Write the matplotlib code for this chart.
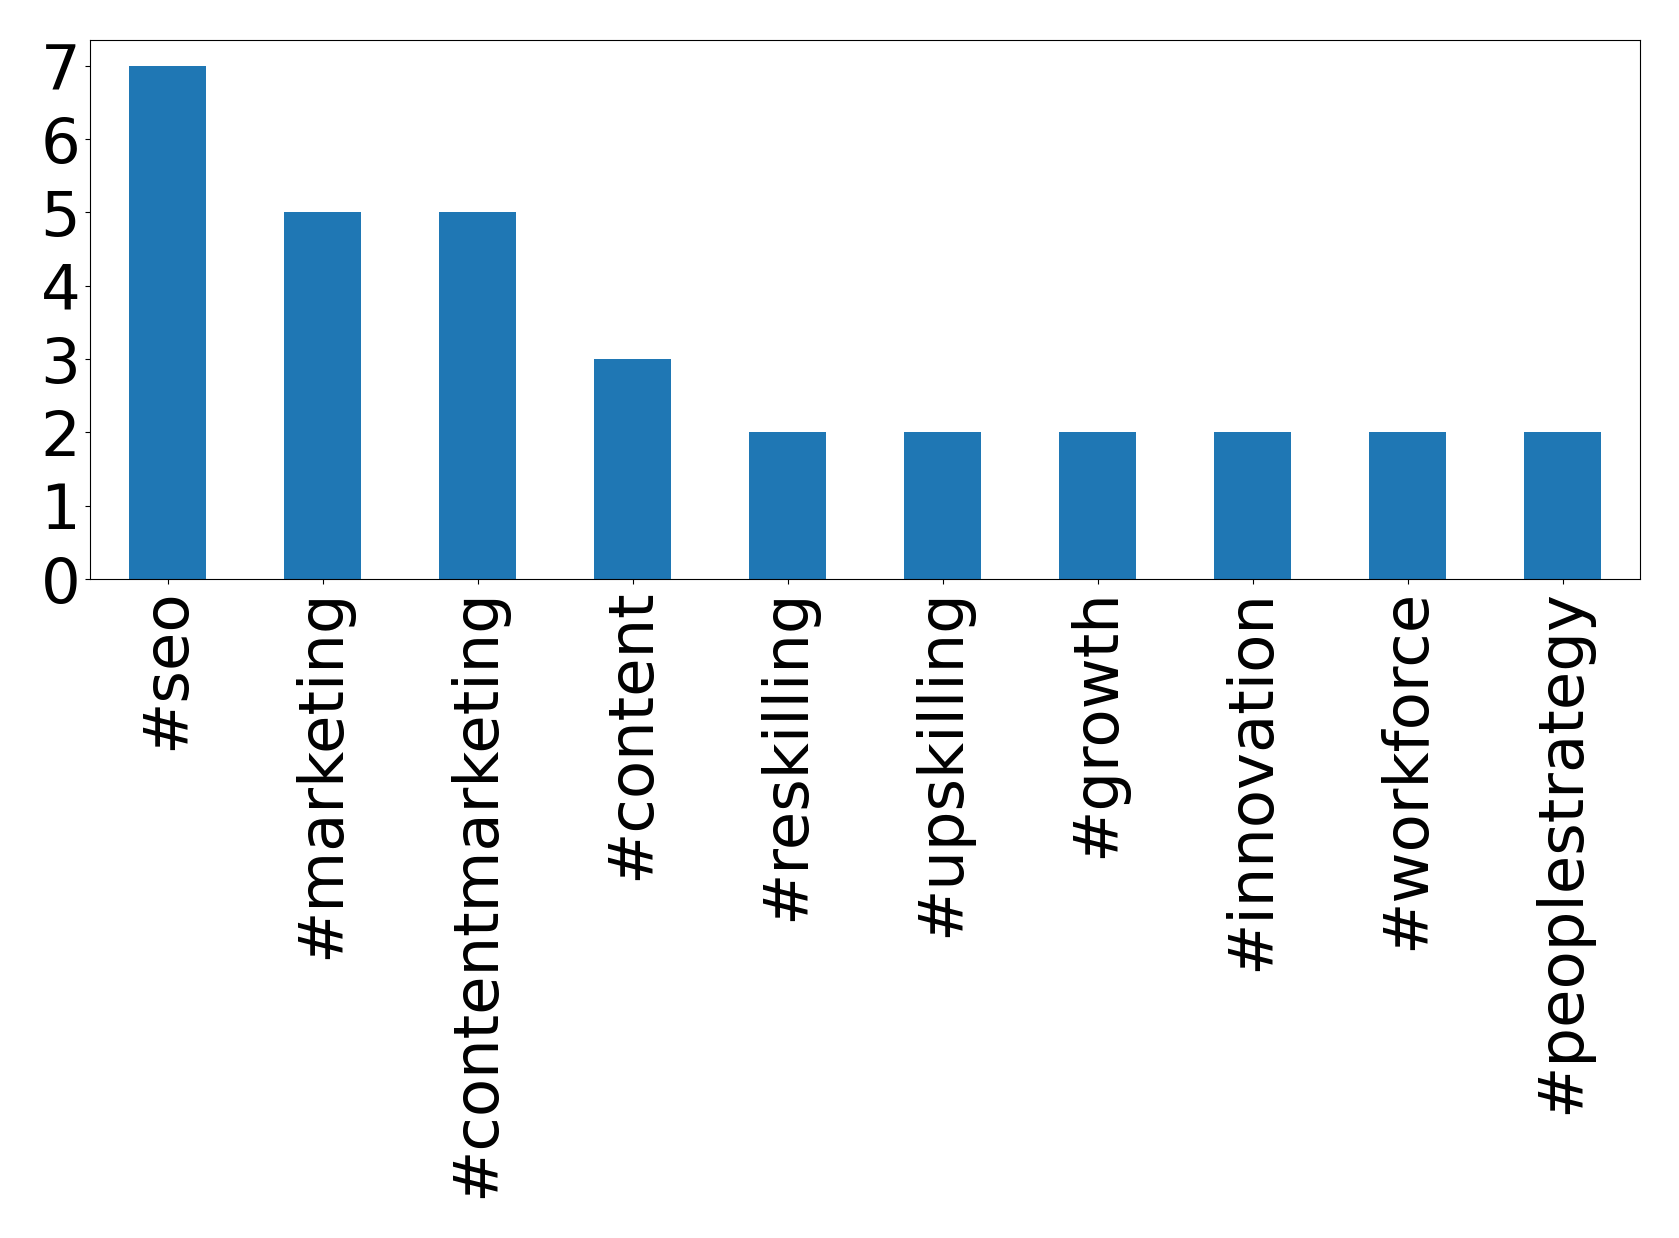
import matplotlib
matplotlib.use("Agg")
import matplotlib.pyplot as plt
import pandas as pd

hashtags = ["#seo", "#marketing", "#contentmarketing", "#content", "#reskilling",
            "#upskilling", "#growth", "#innovation", "#workforce", "#peoplestrategy"]
counts = [7, 5, 5, 3, 2, 2, 2, 2, 2, 2]

s = pd.Series(counts, index=hashtags)

fig = plt.figure(figsize=(16.79, 12.38), dpi=100)
ax = fig.add_axes([90 / 1679, 1 - 579 / 1238, (1640 - 90) / 1679, (579 - 40) / 1238])
s.plot(kind="bar", ax=ax, color="#1f77b4", fontsize=45)

fig.savefig("out.png", dpi=100)
